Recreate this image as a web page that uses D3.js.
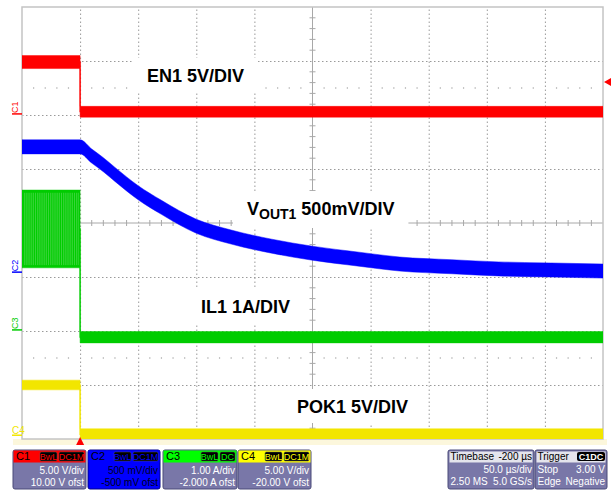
<!DOCTYPE html>
<html>
<head>
<meta charset="utf-8">
<script src="https://cdn.jsdelivr.net/npm/d3@7"></script>
<style>
  body { margin: 0; background: #fff; }
  svg { display: block; font-family: "Liberation Sans", Arial, sans-serif; }
</style>
</head>
<body>
<div id="scope"></div>
<script>
// time in µs (trigger at 0), vertical in divisions (0 = screen centre)
const timeDomain = [-50, 450];
const divDomain = [-4, 4];

const en1Time = [-50, 0, 0, 450];
const en1Upper = [3.10, 3.10, 2.16, 2.16];
const en1Lower = [2.86, 2.86, 1.96, 1.96];

const voutTime = [-50, 0, 10, 20, 30, 50, 70, 100, 130, 165, 200, 240, 275, 320, 360, 405, 450];
const voutLevel = [1.41, 1.41, 1.24, 1.08, 0.90, 0.56, 0.29, -0.06, -0.26, -0.43, -0.56, -0.67, -0.76, -0.81, -0.85, -0.87, -0.89];
const voutSpread = 0.13;

const il1Time = [-50, 0, 0, 450];
const il1Upper = [0.61, 0.61, -2.01, -2.01];
const il1Lower = [-0.83, -0.83, -2.22, -2.22];

const pok1Time = [-50, 0, 0, 450];
const pok1Upper = [-2.91, -2.91, -3.81, -3.81];
const pok1Lower = [-3.09, -3.09, -4.02, -4.02];

const groundLevels = [2.02, -0.91, -1.98, -3.93];
const triggerLevel = 2.61;

const traceLabels = ["EN1 5V/DIV", "500mV/DIV", "IL1 1A/DIV", "POK1 5V/DIV"];
const channelNames = ["C1", "C2", "C3", "C4"];
const channelCoupling = ["DC1M", "DC1M", "DC", "DC1M"];
const channelScale = ["5.00 V/div", "500 mV/div", "1.00 A/div", "5.00 V/div"];
const channelOffset = ["10.00 V ofst", "-500 mV ofst", "-2.000 A ofst", "-20.00 V ofst"];
const timebaseRows = [["Timebase", "-200 µs"], ["", "50.0 µs/div"], ["2.50 MS", "5.0 GS/s"]];
const triggerRows = [["Trigger", ""], ["Stop", "3.00 V"], ["Edge", "Negative"]];

const colors = ["#ff0000", "#0000ff", "#00cc00", "#f2e600"];
const headerColors = ["#ff0000", "#0000ff", "#00ff00", "#ffff00"];

const W = 611, H = 491;
const plot = { left: 22, right: 603, top: 7, bottom: 439 };

const svg = d3.select("#scope").append("svg").attr("width", W).attr("height", H);

const x = d3.scaleLinear().domain(timeDomain).range([plot.left, plot.right]);
const y = d3.scaleLinear().domain(divDomain).range([plot.bottom, plot.top]);

svg.append("defs").append("clipPath").attr("id", "clip")
    .append("rect")
    .attr("x", plot.left).attr("y", plot.top)
    .attr("width", plot.right - plot.left).attr("height", plot.bottom - plot.top);

// pale strip under the graticule
svg.append("rect")
    .attr("x", 13).attr("y", plot.bottom).attr("width", 594).attr("height", 6)
    .attr("fill", "#fcf7dc");

// graticule
const gridX = d3.range(timeDomain[0] + 50, timeDomain[1], 50);
const gridY = d3.range(divDomain[0] + 1, divDomain[1], 1);

svg.append("g")
    .attr("transform", `translate(0,${plot.bottom})`)
    .call(d3.axisBottom(x).tickValues(gridX.filter(d => d !== 200)).tickSize(-(plot.bottom - plot.top)).tickFormat(""))
    .call(g => g.select(".domain").remove())
    .selectAll("line").attr("stroke", "#9a9a9a").attr("stroke-dasharray", "1.5,2.5");

svg.append("g")
    .attr("transform", `translate(${plot.left},0)`)
    .call(d3.axisLeft(y).tickValues(gridY.filter(d => d !== 0)).tickSize(-(plot.right - plot.left)).tickFormat(""))
    .call(g => g.select(".domain").remove())
    .selectAll("line").attr("stroke", "#9a9a9a").attr("stroke-dasharray", "1.5,2.5");

// centre cross with fifth-division ticks
svg.append("line")
    .attr("x1", plot.left).attr("x2", plot.right).attr("y1", y(0)).attr("y2", y(0))
    .attr("stroke", "#a8a8a8");
svg.append("line")
    .attr("x1", x(200)).attr("x2", x(200)).attr("y1", plot.top).attr("y2", plot.bottom)
    .attr("stroke", "#a8a8a8");

const minorX = d3.range(timeDomain[0], timeDomain[1], 10).filter(d => (d + 50) % 50 !== 0);
const minorY = d3.range(divDomain[0], divDomain[1], 0.2).map(d => +d.toFixed(1)).filter(d => Math.abs(d % 1) > 0.01);

svg.append("g").selectAll("line").data(minorX).join("line")
    .attr("x1", d => x(d)).attr("x2", d => x(d))
    .attr("y1", y(0) - 3).attr("y2", y(0) + 3)
    .attr("stroke", "#a8a8a8");
svg.append("g").selectAll("line").data(minorY).join("line")
    .attr("x1", x(200) - 3).attr("x2", x(200) + 3)
    .attr("y1", d => y(d)).attr("y2", d => y(d))
    .attr("stroke", "#a8a8a8");

// dotted half-division rows
[2.5, -2.5].forEach(level => {
    svg.append("g").selectAll("rect").data(minorX).join("rect")
        .attr("x", d => x(d) - 0.6).attr("y", y(level) - 0.6)
        .attr("width", 1.2).attr("height", 1.2)
        .attr("fill", "#a0a0a0");
});

svg.append("rect")
    .attr("x", plot.left).attr("y", plot.top)
    .attr("width", plot.right - plot.left).attr("height", plot.bottom - plot.top)
    .attr("fill", "none").attr("stroke", "#c4c4c4").attr("stroke-width", 1.5);

// trace labels with white backing boxes
const labelLayer = svg.append("g");
const labelPos = [[147, 82], [247, 215], [201, 313], [297, 413]];

labelPos.forEach((p, i) => {
    const t = labelLayer.append("text")
        .attr("x", p[0]).attr("y", p[1])
        .attr("font-size", 18).attr("font-weight", "bold").attr("fill", "#000");
    if (i === 1) {
        t.append("tspan").text("V");
        t.append("tspan").attr("font-size", 14).attr("dy", 4).text("OUT1");
        t.append("tspan").attr("dy", -4).text(" " + traceLabels[i]);
    } else {
        t.text(traceLabels[i]);
    }
    const b = t.node().getBBox();
    labelLayer.insert("rect", "text")
        .attr("x", b.x - 14).attr("y", b.y - 8)
        .attr("width", b.width + 28).attr("height", b.height + 14)
        .attr("fill", "#fff");
});

// traces
const traces = svg.append("g").attr("clip-path", "url(#clip)");

function band(time, upper, lower, color, curve) {
    const pts = time.map((t, i) => ({ t: t, hi: upper[i], lo: lower[i] }));
    traces.append("path")
        .datum(pts)
        .attr("fill", color)
        .attr("stroke", color).attr("stroke-width", 0.8).attr("stroke-opacity", 0.6)
        .attr("d", d3.area().curve(curve).x(d => x(d.t)).y0(d => y(d.lo)).y1(d => y(d.hi)));
    traces.append("path")
        .datum(pts)
        .attr("fill", "none")
        .attr("stroke", color).attr("stroke-width", 1.2)
        .attr("d", d3.line().curve(curve).x(d => x(d.t)).y(d => y((d.hi + d.lo) / 2)));
}

band(pok1Time, pok1Upper, pok1Lower, colors[3], d3.curveLinear);
band(il1Time, il1Upper, il1Lower, colors[2], d3.curveLinear);
band(voutTime, voutLevel.map(v => v + voutSpread), voutLevel.map(v => v - voutSpread), colors[1], d3.curveMonotoneX);
band(en1Time, en1Upper, en1Lower, colors[0], d3.curveLinear);

// lighter streaks inside the switching current envelope
const streakTime = d3.range(-48, 0, 1.6);
traces.append("g").selectAll("line").data(streakTime).join("line")
    .attr("x1", d => x(d)).attr("x2", d => x(d))
    .attr("y1", y(il1Upper[0] - 0.05)).attr("y2", y(il1Lower[0] + 0.05))
    .attr("stroke", "#8ce08c").attr("stroke-width", 0.6).attr("opacity", 0.7);

// channel ground markers
groundLevels.forEach((g, i) => {
    const gy = y(g);
    svg.append("line")
        .attr("x1", 12).attr("x2", plot.left).attr("y1", gy).attr("y2", gy)
        .attr("stroke", colors[i]).attr("stroke-width", 1.5);
    if (i === 3) {
        svg.append("text").attr("x", 12).attr("y", gy - 1)
            .attr("font-size", 10).attr("fill", colors[i]).text(channelNames[i]);
    } else {
        svg.append("text")
            .attr("transform", `translate(${18},${gy - 1}) rotate(-90)`)
            .attr("font-size", 9).attr("fill", colors[i]).text(channelNames[i]);
    }
});

// trigger markers
svg.append("path")
    .attr("d", `M${x(0)},${plot.bottom - 2} l-4,8 l8,0 Z`)
    .attr("fill", "#ff0000");
svg.append("path")
    .attr("d", `M${plot.right + 1},${y(triggerLevel)} l7,-4 l0,8 Z`)
    .attr("fill", "#ff0000");

// status boxes
const boxTop = 450, boxH = 39, headH = 12;
const panelFill = "#7977a8", panelStroke = "#4b4a78";
const chanX = [13, 88, 163, 238];
const chanW = [73, 72, 74, 73];

function tag(parent, tx, ty, w, label, color) {
    parent.append("rect").attr("x", tx).attr("y", ty).attr("width", w).attr("height", 9)
        .attr("rx", 1.5).attr("fill", "#000").attr("stroke", "#555").attr("stroke-width", 0.5);
    parent.append("text").attr("x", tx + w / 2).attr("y", ty + 7.8)
        .attr("text-anchor", "middle").attr("font-size", 9).attr("fill", color).text(label);
}

channelNames.forEach((name, i) => {
    const g = svg.append("g");
    const bx = chanX[i], bw = chanW[i];
    const isBlue = i === 1;
    g.append("rect").attr("x", bx).attr("y", boxTop).attr("width", bw).attr("height", boxH)
        .attr("rx", 2).attr("fill", isBlue ? "#0000ff" : panelFill)
        .attr("stroke", isBlue ? "#00008a" : panelStroke);
    g.append("rect").attr("x", bx + 0.5).attr("y", boxTop + 0.5).attr("width", bw - 1).attr("height", headH)
        .attr("fill", headerColors[i]);
    g.append("text").attr("x", bx + 3).attr("y", boxTop + 10)
        .attr("font-size", 11).attr("fill", "#000").text(name);
    const cw = channelCoupling[i] === "DC" ? 15 : 25;
    tag(g, bx + bw - 2 - cw, boxTop + 2, cw, channelCoupling[i], headerColors[i]);
    tag(g, bx + bw - 4 - cw - 17, boxTop + 2, 17, "BwL", headerColors[i]);
    const tc = isBlue ? "#000022" : "#fff";
    g.append("text").attr("x", bx + bw - 2).attr("y", boxTop + 24)
        .attr("text-anchor", "end").attr("font-size", 10).attr("fill", tc).text(channelScale[i]);
    g.append("text").attr("x", bx + bw - 2).attr("y", boxTop + 36)
        .attr("text-anchor", "end").attr("font-size", 10).attr("fill", tc).text(channelOffset[i]);
});

function infoBox(bx, bw, rows, tagLabel) {
    const g = svg.append("g");
    g.append("rect").attr("x", bx).attr("y", boxTop).attr("width", bw).attr("height", boxH)
        .attr("rx", 2).attr("fill", panelFill).attr("stroke", panelStroke);
    g.append("rect").attr("x", bx + 1.5).attr("y", boxTop + 1.5).attr("width", bw - 3).attr("height", headH - 1)
        .attr("fill", "#e4e4ec");
    rows.forEach((r, k) => {
        const ty = boxTop + 10 + k * 12.5;
        const tc = k === 0 ? "#000" : "#fff";
        if (r[0]) g.append("text").attr("x", bx + 2.5).attr("y", ty)
            .attr("font-size", 10).attr("fill", tc).text(r[0]);
        if (r[1]) g.append("text").attr("x", bx + bw - 2).attr("y", ty)
            .attr("text-anchor", "end").attr("font-size", 10).attr("fill", tc).text(r[1]);
    });
    if (tagLabel) {
        g.append("rect").attr("x", bx + bw - 30).attr("y", boxTop + 2).attr("width", 28).attr("height", 9)
            .attr("rx", 2).attr("fill", "#000");
        g.append("text").attr("x", bx + bw - 16).attr("y", boxTop + 9.8)
            .attr("text-anchor", "middle").attr("font-size", 9).attr("font-weight", "bold")
            .attr("fill", "#fff").text(tagLabel);
    }
}

infoBox(448, 86, timebaseRows);
infoBox(535, 72, triggerRows, "C1DC");
</script>
</body>
</html>
